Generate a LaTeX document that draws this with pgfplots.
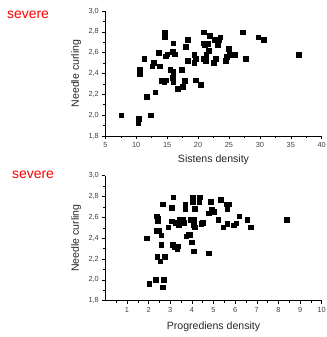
\documentclass[border=0pt]{standalone}
\usepackage{pgfplots}
\pgfplotsset{compat=1.18}
\usepackage{fontspec}
\setmainfont{Liberation Sans}
\begin{document}
\begin{tikzpicture}
\useasboundingbox (0,0) rectangle (327bp,337bp);
\pgfplotsset{
  myax/.style={
    scale only axis, width=216.4bp, height=125bp, anchor=south west,
    axis x line*=bottom, axis y line*=left,
    axis line style={line width=0.6pt, -},
    tick align=outside, tick style={black, line width=0.5pt},
    major tick length=3bp, minor tick length=2bp,
    ymin=1.8, ymax=3.0, ytick={1.8,2.0,...,3.01}, minor ytick={1.9,2.1,...,2.91},
    yticklabel style={/pgf/number format/.cd, fixed, fixed zerofill, precision=1, use comma, assume math mode=true},
    xticklabel style={/pgf/number format/assume math mode=true},
    tick label style={font=\fontsize{7.4}{8}\selectfont, text=black!75},
    label style={font=\fontsize{10.6}{12}\selectfont, text=black!85},
    ylabel={Needle curling},
    ylabel style={at={(axis description cs:-0.135,0.5)}, anchor=center, rotate=0},
    clip=false,
  },
  pts/.style={only marks, mark=square*, mark size=2.3bp, mark options={black, fill=black}},
}
\begin{axis}[myax, at={(105.3bp,201bp)},
  xmin=5, xmax=40, xtick={5,10,...,40}, minor xtick={7.5,12.5,...,37.5},
  xlabel={Sistens density}, xlabel style={at={(axis description cs:0.5,-0.19)}, anchor=center}]
\addplot[pts] coordinates {
(7.6,2.0) (10.4,1.965) (10.3,1.93) (10.6,2.435) (10.6,2.40) (11.3,2.54) (11.7,2.18)
(12.3,2.0) (12.8,2.505) (12.6,2.47) (13.1,2.22) (13.6,2.60) (13.8,2.47) (14.1,2.33)
(14.6,2.795) (14.6,2.755) (14.5,2.32) (14.8,2.335) (14.8,2.565) (15.0,2.585) (15.5,2.435)
(16.0,2.69) (15.9,2.61) (16.2,2.585) (16.0,2.415) (15.9,2.36) (16.0,2.315) (16.7,2.255)
(17.4,2.435) (17.5,2.275) (17.8,2.33) (18.0,2.655) (18.3,2.725) (18.3,2.525) (19.4,2.58)
(19.4,2.505) (19.6,2.54) (19.6,2.335) (20.4,2.295) (20.9,2.795) (20.9,2.69) (21.1,2.675)
(20.9,2.54) (21.2,2.525) (21.3,2.58) (21.6,2.685) (21.7,2.62) (21.9,2.765) (22.5,2.505)
(22.7,2.725) (22.9,2.54) (23.3,2.725) (23.2,2.675) (23.6,2.75) (24.5,2.525) (24.6,2.56)
(25.0,2.64) (25.1,2.58) (26.0,2.58) (27.2,2.795) (27.7,2.54) (29.7,2.75) (30.6,2.725)
(36.3,2.58)
};
\end{axis}
\begin{axis}[myax, at={(105.3bp,36.3bp)},
  xmin=0, xmax=10, xtick={1,...,10}, minor xtick={0.5,1.5,...,9.5},
  xlabel={Progrediens density}, xlabel style={at={(axis description cs:0.5,-0.208)}, anchor=center}]
\addplot[pts] coordinates {
(1.9,2.40) (2.03,1.965) (2.34,2.0) (2.35,2.47) (2.38,2.61) (2.45,2.585) (2.42,2.565)
(2.46,2.47) (2.40,2.22) (2.54,2.18) (2.58,2.43) (2.58,2.335) (2.66,2.725) (2.70,2.0)
(2.66,1.93) (2.74,2.22) (2.90,2.505) (3.07,2.69) (3.07,2.565) (3.13,2.795) (3.12,2.335)
(3.21,2.315) (3.24,2.55) (3.33,2.30) (3.36,2.325) (3.39,2.53) (3.44,2.58) (3.53,2.56)
(3.58,2.58) (3.62,2.55) (3.69,2.685) (3.70,2.72) (3.73,2.42) (3.84,2.435) (3.90,2.435)
(3.96,2.58) (4.0,2.36) (4.04,2.795) (4.04,2.75) (4.08,2.58) (4.08,2.525) (4.13,2.505)
(4.13,2.685) (4.08,2.275) (4.34,2.75) (4.37,2.795) (4.43,2.54) (4.50,2.55) (4.77,2.64)
(4.77,2.255) (4.86,2.75) (4.91,2.675) (5.0,2.655) (5.21,2.58) (5.34,2.77) (5.44,2.505)
(5.60,2.725) (5.64,2.54) (5.69,2.725) (5.64,2.685) (5.93,2.525) (6.04,2.545) (6.18,2.61)
(6.55,2.58) (6.71,2.505) (8.39,2.58)
};
\end{axis}
\node[text=red, font=\fontsize{14}{16}\selectfont] at (28bp,322bp) {severe};
\node[text=red, font=\fontsize{14}{16}\selectfont] at (33bp,162bp) {severe};
\end{tikzpicture}
\end{document}
